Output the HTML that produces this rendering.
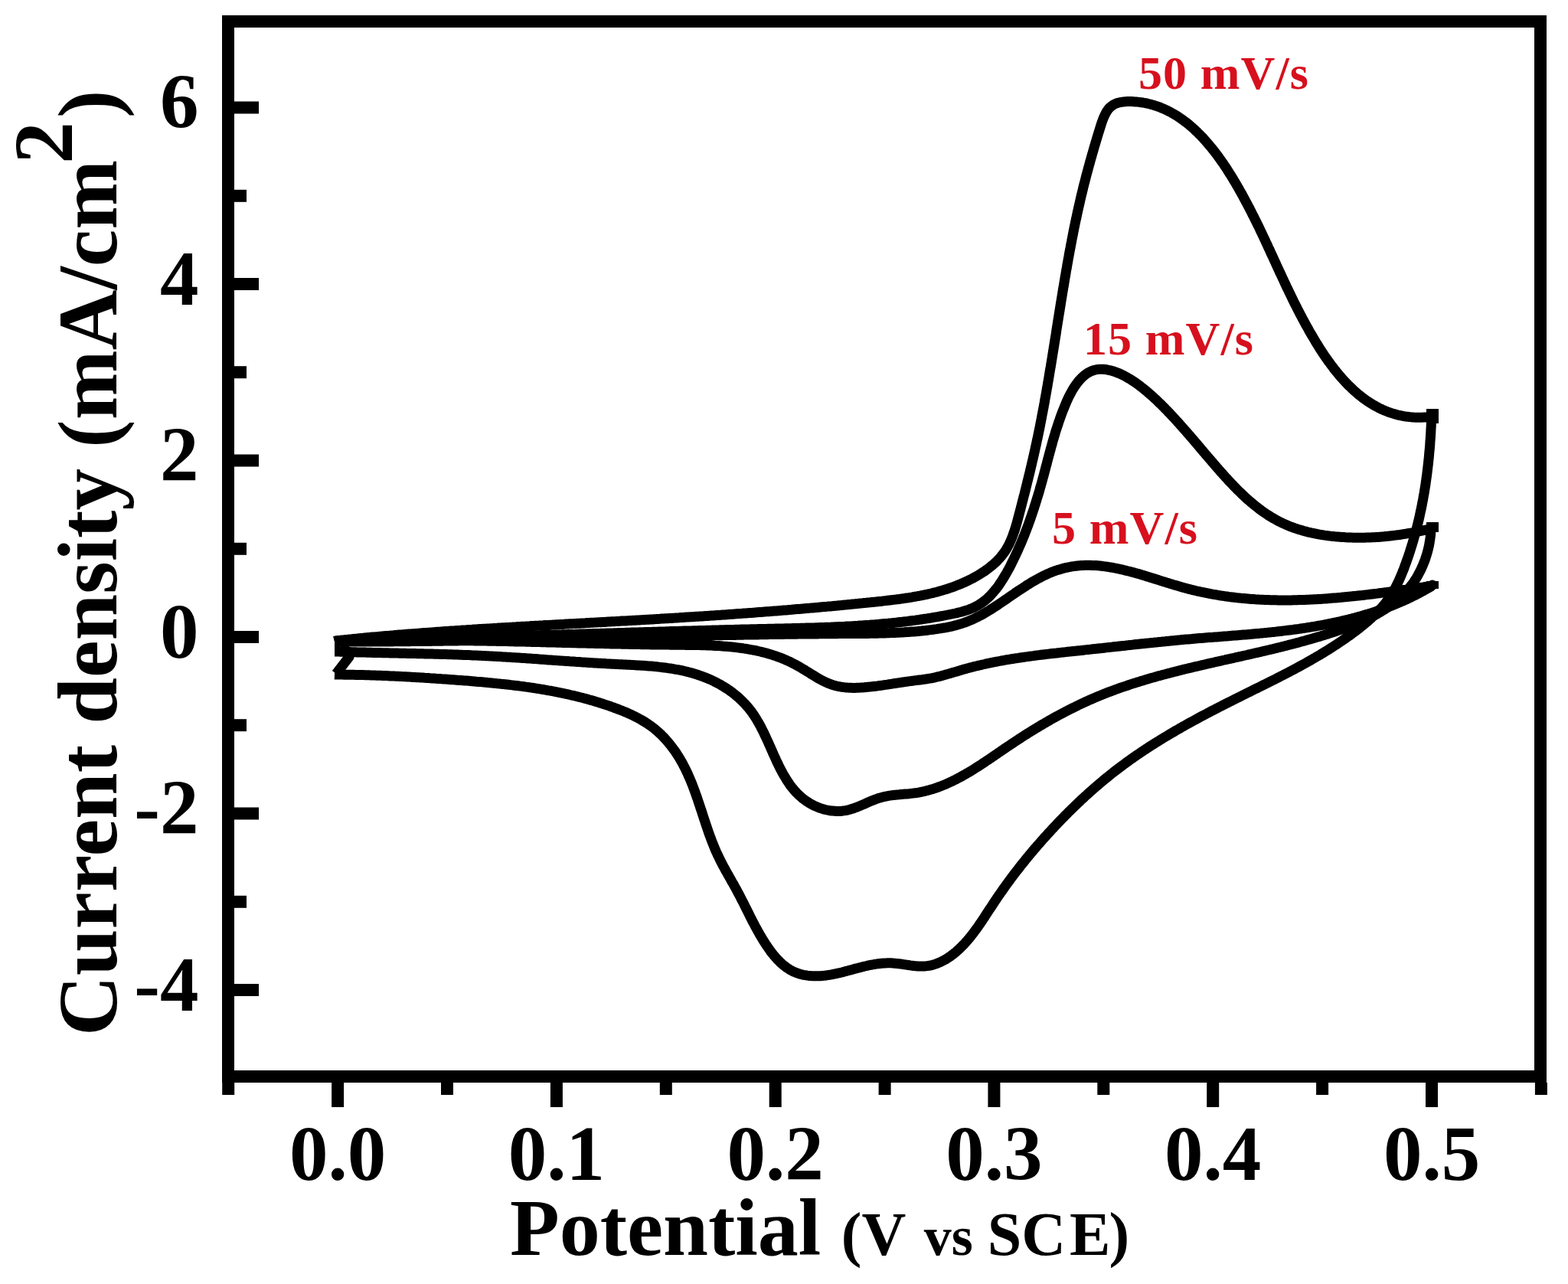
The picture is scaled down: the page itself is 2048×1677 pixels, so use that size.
<!DOCTYPE html>
<html><head><meta charset="utf-8"><style>
html,body{margin:0;padding:0;background:#fff;}
body{width:2048px;height:1677px;overflow:hidden;}
svg{display:block;}
text{font-family:"Liberation Serif",serif;font-weight:bold;}
</style></head><body>
<svg width="2048" height="1677" viewBox="0 0 2048 1677">
<rect width="2048" height="1677" fill="#fff"/>
<g fill="none" stroke="#000" stroke-width="13" stroke-linejoin="round" stroke-linecap="butt">
<path d="M437.0,837.5L439.5,836.7 442.0,836.4 444.5,836.2 446.9,835.9 449.4,835.7 451.9,835.4 454.4,835.2 456.9,834.9 459.4,834.7 461.8,834.4 464.3,834.2 466.8,834.0 469.3,833.7 471.8,833.5 474.3,833.3 476.8,833.0 479.2,832.8 481.7,832.6 484.2,832.3 486.7,832.1 489.2,831.9 491.7,831.7 494.2,831.5 496.7,831.2 499.2,831.0 501.6,830.8 504.1,830.6 506.6,830.4 509.1,830.2 511.6,830.0 514.1,829.8 516.6,829.5 519.1,829.3 521.6,829.1 524.1,828.9 526.6,828.7 529.1,828.5 531.6,828.3 534.1,828.1 536.6,827.9 539.1,827.7 541.6,827.6 544.0,827.4 546.5,827.2 549.0,827.0 551.5,826.8 554.0,826.6 556.5,826.4 559.0,826.2 561.5,826.1 564.0,825.9 566.5,825.7 569.0,825.5 571.5,825.3 574.0,825.2 576.5,825.0 579.0,824.8 581.5,824.6 584.0,824.5 586.5,824.3 589.0,824.1 591.5,823.9 594.0,823.8 596.5,823.6 599.0,823.4 601.5,823.3 604.0,823.1 606.5,822.9 609.1,822.8 611.6,822.6 614.1,822.4 616.6,822.3 619.1,822.1 621.6,822.0 624.1,821.8 626.6,821.6 629.1,821.5 631.6,821.3 634.1,821.2 636.6,821.0 639.1,820.9 641.6,820.7 644.1,820.6 646.6,820.4 649.1,820.3 651.6,820.1 654.1,820.0 656.6,819.8 659.1,819.7 661.6,819.5 664.1,819.4 666.7,819.2 669.2,819.1 671.7,818.9 674.2,818.8 676.7,818.6 679.2,818.5 681.7,818.3 684.2,818.2 686.7,818.1 689.2,817.9 691.7,817.8 694.2,817.6 696.7,817.5 699.2,817.3 701.7,817.2 704.2,817.1 706.7,816.9 709.2,816.8 711.8,816.6 714.3,816.5 716.8,816.4 719.3,816.2 721.8,816.1 724.3,815.9 726.8,815.8 729.3,815.7 731.8,815.5 734.3,815.4 736.8,815.3 739.3,815.1 741.8,815.0 744.3,814.8 746.8,814.7 749.3,814.6 751.8,814.4 754.3,814.3 756.8,814.2 759.3,814.0 761.9,813.9 764.4,813.8 766.9,813.6 769.4,813.5 771.9,813.3 774.4,813.2 776.9,813.1 779.4,812.9 781.9,812.8 784.4,812.7 786.9,812.5 789.4,812.4 791.9,812.2 794.4,812.1 796.9,812.0 799.4,811.8 801.9,811.7 804.4,811.6 806.9,811.4 809.4,811.3 811.9,811.1 814.4,811.0 816.9,810.9 819.4,810.7 821.9,810.6 824.4,810.4 826.9,810.3 829.4,810.2 831.9,810.0 834.4,809.9 836.9,809.7 839.4,809.6 841.9,809.4 844.4,809.3 846.9,809.2 849.4,809.0 851.9,808.9 854.4,808.7 856.9,808.6 859.4,808.4 861.9,808.3 864.3,808.1 866.8,808.0 869.3,807.8 871.8,807.7 874.3,807.5 876.8,807.4 879.3,807.2 881.8,807.1 884.3,806.9 886.8,806.8 889.3,806.6 891.8,806.5 894.3,806.3 896.8,806.1 899.2,806.0 901.7,805.8 904.2,805.7 906.7,805.5 909.2,805.3 911.7,805.2 914.2,805.0 916.7,804.9 919.2,804.7 921.7,804.5 924.1,804.4 926.6,804.2 929.1,804.0 931.6,803.9 934.1,803.7 936.6,803.5 939.1,803.4 941.6,803.2 944.1,803.0 946.6,802.9 949.0,802.7 951.5,802.5 954.0,802.3 956.5,802.2 959.0,802.0 961.5,801.8 964.0,801.6 966.5,801.4 969.0,801.3 971.5,801.1 973.9,800.9 976.4,800.7 978.9,800.5 981.4,800.4 983.9,800.2 986.4,800.0 988.9,799.8 991.4,799.6 993.9,799.4 996.4,799.2 998.9,799.0 1001.3,798.8 1003.8,798.7 1006.3,798.5 1008.8,798.3 1011.3,798.1 1013.8,797.9 1016.3,797.7 1018.8,797.5 1021.3,797.3 1023.8,797.1 1026.3,796.9 1028.8,796.7 1031.3,796.5 1033.8,796.3 1036.3,796.0 1038.8,795.8 1041.3,795.6 1043.8,795.4 1046.3,795.2 1048.8,795.0 1051.2,794.8 1053.7,794.6 1056.2,794.4 1058.7,794.1 1061.2,793.9 1063.7,793.7 1066.2,793.5 1068.8,793.3 1071.3,793.0 1073.8,792.8 1076.3,792.6 1078.8,792.4 1081.3,792.1 1083.8,791.9 1086.3,791.7 1088.8,791.4 1091.3,791.2 1093.8,791.0 1096.3,790.7 1098.8,790.5 1101.3,790.2 1103.8,790.0 1106.3,789.8 1108.9,789.5 1111.4,789.3 1113.9,789.0 1116.4,788.8 1118.9,788.5 1121.4,788.3 1123.9,788.0 1126.4,787.8 1129.0,787.5 1131.5,787.3 1134.0,787.0 1136.5,786.8 1139.0,786.5 1141.6,786.2 1144.1,786.0 1146.6,785.7 1149.1,785.4 1151.6,785.2 1154.2,784.9 1156.7,784.6 1159.2,784.3 1161.7,784.0 1164.2,783.7 1166.7,783.4 1169.3,783.1 1171.8,782.8 1174.3,782.5 1176.8,782.1 1179.3,781.8 1181.8,781.4 1184.3,781.0 1186.8,780.7 1189.3,780.3 1191.7,779.9 1194.2,779.4 1196.7,779.0 1199.2,778.5 1201.6,778.1 1204.1,777.6 1206.5,777.1 1209.0,776.6 1211.4,776.1 1213.9,775.5 1216.3,775.0 1218.7,774.4 1221.1,773.8 1223.5,773.2 1225.9,772.5 1228.3,771.8 1230.7,771.2 1233.1,770.4 1235.4,769.7 1237.8,769.0 1240.1,768.2 1242.5,767.4 1244.8,766.6 1247.1,765.7 1249.4,764.8 1251.7,763.9 1254.0,763.0 1256.3,762.0 1258.6,761.0 1260.8,760.0 1263.1,759.0 1265.3,757.9 1267.5,756.8 1269.7,755.7 1271.9,754.5 1274.1,753.3 1276.3,752.0 1278.4,750.8 1280.5,749.5 1282.7,748.1 1284.8,746.8 1286.8,745.4 1288.9,743.9 1290.9,742.4 1292.9,740.9 1294.8,739.3 1296.7,737.7 1298.6,736.1 1300.4,734.4 1302.2,732.7 1303.9,730.9 1305.6,729.1 1307.2,727.3 1308.7,725.4 1310.2,723.4 1311.7,721.4 1313.1,719.4 1314.4,717.3 1315.6,715.2 1316.8,713.0 1318.0,710.8 1319.0,708.6 1320.1,706.3 1321.0,704.0 1322.0,701.7 1322.9,699.3 1323.7,696.9 1324.6,694.5 1325.4,692.1 1326.1,689.7 1326.9,687.2 1327.6,684.7 1328.3,682.3 1329.0,679.8 1329.6,677.3 1330.3,674.8 1331.0,672.3 1331.6,669.9 1332.2,667.4 1332.9,664.9 1333.5,662.4 1334.2,660.0 1334.8,657.5 1335.4,655.1 1336.1,652.6 1336.7,650.1 1337.3,647.7 1338.0,645.3 1338.6,642.8 1339.2,640.4 1339.8,637.9 1340.4,635.5 1341.0,633.1 1341.6,630.6 1342.2,628.2 1342.8,625.8 1343.4,623.3 1344.0,620.9 1344.6,618.5 1345.2,616.1 1345.8,613.6 1346.3,611.2 1346.9,608.8 1347.5,606.4 1348.0,603.9 1348.6,601.5 1349.2,599.1 1349.7,596.7 1350.3,594.3 1350.8,591.8 1351.4,589.4 1351.9,587.0 1352.4,584.6 1353.0,582.1 1353.5,579.7 1354.0,577.3 1354.5,574.8 1355.1,572.4 1355.6,570.0 1356.1,567.5 1356.6,565.1 1357.1,562.7 1357.6,560.2 1358.1,557.8 1358.6,555.3 1359.0,552.9 1359.5,550.4 1360.0,548.0 1360.5,545.5 1360.9,543.1 1361.4,540.6 1361.9,538.2 1362.3,535.7 1362.8,533.3 1363.3,530.8 1363.7,528.3 1364.2,525.9 1364.6,523.4 1365.0,520.9 1365.5,518.5 1365.9,516.0 1366.4,513.5 1366.8,511.1 1367.2,508.6 1367.7,506.1 1368.1,503.7 1368.5,501.2 1368.9,498.7 1369.4,496.2 1369.8,493.8 1370.2,491.3 1370.6,488.8 1371.0,486.3 1371.4,483.9 1371.8,481.4 1372.3,478.9 1372.7,476.4 1373.1,473.9 1373.5,471.5 1373.9,469.0 1374.3,466.5 1374.7,464.0 1375.1,461.5 1375.5,459.0 1375.9,456.6 1376.3,454.1 1376.7,451.6 1377.1,449.1 1377.5,446.6 1377.9,444.1 1378.3,441.6 1378.7,439.2 1379.1,436.7 1379.5,434.2 1379.8,431.7 1380.2,429.2 1380.6,426.7 1381.0,424.3 1381.4,421.8 1381.8,419.3 1382.2,416.8 1382.6,414.3 1383.0,411.8 1383.4,409.3 1383.8,406.9 1384.2,404.4 1384.6,401.9 1385.0,399.4 1385.4,396.9 1385.8,394.4 1386.2,392.0 1386.6,389.5 1387.0,387.0 1387.4,384.5 1387.8,382.0 1388.2,379.6 1388.6,377.1 1389.1,374.6 1389.5,372.1 1389.9,369.6 1390.3,367.2 1390.7,364.7 1391.1,362.2 1391.6,359.8 1392.0,357.3 1392.4,354.8 1392.8,352.3 1393.3,349.9 1393.7,347.4 1394.1,344.9 1394.6,342.5 1395.0,340.0 1395.4,337.5 1395.9,335.1 1396.3,332.6 1396.8,330.2 1397.2,327.7 1397.7,325.2 1398.2,322.8 1398.6,320.3 1399.1,317.9 1399.6,315.4 1400.0,313.0 1400.5,310.5 1401.0,308.1 1401.5,305.6 1401.9,303.2 1402.4,300.8 1402.9,298.3 1403.4,295.9 1403.9,293.4 1404.4,291.0 1404.9,288.6 1405.5,286.1 1406.0,283.7 1406.5,281.3 1407.0,278.9 1407.5,276.4 1408.1,274.0 1408.6,271.6 1409.2,269.2 1409.7,266.8 1410.3,264.4 1410.8,261.9 1411.4,259.5 1411.9,257.1 1412.5,254.7 1413.1,252.3 1413.7,249.9 1414.3,247.5 1414.8,245.1 1415.4,242.7 1416.0,240.3 1416.7,237.9 1417.3,235.5 1417.9,233.1 1418.5,230.7 1419.1,228.3 1419.8,225.9 1420.4,223.5 1421.1,221.1 1421.7,218.7 1422.4,216.3 1423.1,213.8 1423.7,211.4 1424.4,209.0 1425.1,206.5 1425.8,204.1 1426.5,201.6 1427.2,199.2 1427.9,196.7 1428.6,194.3 1429.3,191.8 1430.1,189.3 1430.8,186.8 1431.6,184.3 1432.3,181.8 1433.1,179.3 1433.8,176.8 1434.6,174.2 1435.4,171.7 1436.2,169.1 1437.0,166.6 1437.8,164.0 1438.6,161.4 1439.5,158.9 1440.4,156.4 1441.3,154.0 1442.4,151.6 1443.5,149.3 1444.6,147.1 1445.9,145.1 1447.3,143.1 1448.7,141.3 1450.4,139.7 1452.1,138.3 1454.0,137.0 1456.0,135.9 1458.1,135.0 1460.4,134.3 1462.7,133.7 1465.1,133.3 1467.6,132.9 1470.1,132.7 1472.6,132.6 1475.2,132.6 1477.7,132.6 1480.3,132.7 1482.8,132.9 1485.3,133.1 1487.8,133.4 1490.2,133.7 1492.7,134.0 1495.1,134.5 1497.5,134.9 1499.8,135.5 1502.2,136.0 1504.5,136.7 1506.8,137.3 1509.1,138.1 1511.4,138.8 1513.7,139.6 1515.9,140.5 1518.1,141.4 1520.3,142.3 1522.5,143.3 1524.6,144.3 1526.7,145.4 1528.9,146.5 1530.9,147.7 1533.0,148.9 1535.1,150.1 1537.1,151.3 1539.1,152.6 1541.1,154.0 1543.1,155.4 1545.1,156.8 1547.0,158.2 1549.0,159.7 1550.9,161.2 1552.8,162.7 1554.6,164.3 1556.5,165.9 1558.3,167.5 1560.2,169.2 1562.0,170.9 1563.8,172.6 1565.5,174.4 1567.3,176.1 1569.0,177.9 1570.8,179.7 1572.5,181.6 1574.2,183.5 1575.8,185.4 1577.5,187.3 1579.1,189.2 1580.8,191.2 1582.4,193.1 1584.0,195.1 1585.6,197.1 1587.2,199.2 1588.7,201.2 1590.3,203.3 1591.8,205.4 1593.3,207.5 1594.8,209.6 1596.3,211.7 1597.8,213.8 1599.2,216.0 1600.7,218.1 1602.1,220.3 1603.5,222.5 1604.9,224.7 1606.3,226.9 1607.7,229.1 1609.0,231.3 1610.4,233.5 1611.7,235.8 1613.1,238.0 1614.4,240.2 1615.7,242.5 1617.0,244.7 1618.3,246.9 1619.5,249.2 1620.8,251.4 1622.1,253.7 1623.3,255.9 1624.5,258.2 1625.7,260.4 1626.9,262.7 1628.1,264.9 1629.3,267.1 1630.5,269.4 1631.7,271.6 1632.8,273.9 1634.0,276.1 1635.1,278.3 1636.2,280.6 1637.4,282.8 1638.5,285.1 1639.6,287.3 1640.7,289.5 1641.8,291.8 1642.9,294.0 1644.0,296.2 1645.1,298.5 1646.1,300.7 1647.2,303.0 1648.3,305.2 1649.3,307.4 1650.4,309.7 1651.4,311.9 1652.5,314.1 1653.5,316.4 1654.6,318.6 1655.6,320.8 1656.6,323.1 1657.7,325.3 1658.7,327.5 1659.7,329.8 1660.7,332.0 1661.8,334.2 1662.8,336.4 1663.8,338.7 1664.8,340.9 1665.9,343.1 1666.9,345.4 1667.9,347.6 1668.9,349.8 1670.0,352.0 1671.0,354.3 1672.0,356.5 1673.1,358.7 1674.1,360.9 1675.1,363.2 1676.2,365.4 1677.2,367.6 1678.2,369.8 1679.3,372.1 1680.3,374.3 1681.4,376.5 1682.5,378.7 1683.5,381.0 1684.6,383.2 1685.7,385.4 1686.8,387.6 1687.8,389.8 1688.9,392.1 1690.0,394.3 1691.1,396.5 1692.2,398.7 1693.4,400.9 1694.5,403.2 1695.6,405.4 1696.8,407.6 1697.9,409.8 1699.1,412.0 1700.2,414.2 1701.4,416.5 1702.6,418.7 1703.8,420.9 1705.0,423.1 1706.2,425.3 1707.5,427.5 1708.7,429.7 1709.9,432.0 1711.2,434.2 1712.5,436.4 1713.8,438.6 1715.1,440.8 1716.4,443.0 1717.7,445.2 1719.0,447.4 1720.4,449.6 1721.7,451.8 1723.1,454.0 1724.5,456.2 1725.9,458.3 1727.3,460.5 1728.7,462.6 1730.2,464.8 1731.6,466.9 1733.1,469.0 1734.6,471.1 1736.1,473.2 1737.6,475.2 1739.1,477.3 1740.7,479.3 1742.2,481.4 1743.8,483.4 1745.4,485.4 1747.0,487.3 1748.6,489.3 1750.2,491.2 1751.9,493.1 1753.6,495.0 1755.3,496.9 1757.0,498.7 1758.7,500.5 1760.4,502.3 1762.2,504.1 1764.0,505.8 1765.8,507.5 1767.6,509.2 1769.4,510.9 1771.3,512.5 1773.1,514.1 1775.0,515.7 1776.9,517.2 1778.8,518.7 1780.8,520.2 1782.7,521.6 1784.7,523.0 1786.7,524.4 1788.8,525.7 1790.8,527.0 1792.9,528.3 1795.0,529.5 1797.1,530.7 1799.2,531.8 1801.3,532.9 1803.5,534.0 1805.7,535.0 1807.9,535.9 1810.2,536.9 1812.4,537.8 1814.7,538.6 1817.0,539.4 1819.3,540.1 1821.7,540.8 1824.0,541.5 1826.4,542.1 1828.9,542.6 1831.3,543.1 1833.8,543.6 1836.3,544.0 1838.8,544.3 1841.3,544.6 1843.9,544.9 1846.5,545.1 1849.1,545.2 1851.7,545.3 1854.4,545.3 1857.1,545.2 1859.8,545.1 1862.5,545.0 1865.3,544.7 1868.1,544.5 1870.0,545.0 L1870.0,545.0L1869.6,547.4 1869.5,550.0 1869.4,552.5 1869.3,555.0 1869.2,557.5 1869.0,560.0 1868.9,562.5 1868.8,565.0 1868.6,567.5 1868.5,570.0 1868.3,572.5 1868.1,575.0 1867.9,577.5 1867.8,580.0 1867.6,582.5 1867.4,585.0 1867.2,587.5 1866.9,590.0 1866.7,592.5 1866.5,595.0 1866.3,597.5 1866.0,600.0 1865.7,602.5 1865.5,605.0 1865.2,607.4 1864.9,609.9 1864.6,612.4 1864.3,614.9 1864.0,617.4 1863.7,619.9 1863.4,622.3 1863.0,624.8 1862.7,627.3 1862.3,629.8 1862.0,632.2 1861.6,634.7 1861.2,637.2 1860.8,639.6 1860.4,642.1 1860.0,644.6 1859.5,647.0 1859.1,649.5 1858.7,651.9 1858.2,654.4 1857.7,656.8 1857.3,659.3 1856.8,661.7 1856.3,664.2 1855.8,666.6 1855.2,669.1 1854.7,671.5 1854.2,673.9 1853.6,676.4 1853.1,678.8 1852.5,681.2 1851.9,683.7 1851.3,686.1 1850.7,688.5 1850.1,690.9 1849.4,693.4 1848.8,695.8 1848.1,698.2 1847.4,700.6 1846.8,703.0 1846.1,705.4 1845.4,707.8 1844.7,710.2 1843.9,712.6 1843.2,715.0 1842.4,717.4 1841.7,719.8 1840.9,722.2 1840.1,724.6 1839.3,727.0 1838.5,729.3 1837.6,731.7 1836.8,734.1 1835.9,736.5 1835.0,738.8 1834.2,741.2 1833.3,743.6 1832.3,745.9 1831.4,748.3 1830.4,750.6 1829.5,752.9 1828.5,755.2 1827.5,757.5 1826.4,759.8 1825.3,762.1 1824.2,764.4 1823.1,766.6 1821.9,768.8 1820.7,771.0 1819.5,773.2 1818.2,775.3 1816.9,777.4 1815.6,779.5 1814.2,781.5 1812.7,783.5 1811.2,785.5 1809.7,787.5 1808.2,789.4 1806.6,791.3 1805.0,793.2 1803.3,795.0 1801.7,796.9 1799.9,798.7 1798.2,800.4 1796.4,802.2 1794.6,803.9 1792.8,805.6 1791.0,807.3 1789.1,809.0 1787.3,810.6 1785.4,812.3 1783.5,813.9 1781.5,815.5 1779.6,817.1 1777.6,818.6 1775.7,820.2 1773.7,821.7 1771.7,823.3 1769.7,824.8 1767.7,826.3 1765.7,827.7 1763.7,829.2 1761.7,830.7 1759.6,832.1 1757.6,833.6 1755.6,835.0 1753.5,836.4 1751.4,837.8 1749.4,839.2 1747.3,840.6 1745.2,842.0 1743.1,843.3 1741.0,844.7 1738.9,846.0 1736.8,847.4 1734.7,848.7 1732.6,850.0 1730.5,851.3 1728.4,852.6 1726.2,853.9 1724.1,855.2 1721.9,856.5 1719.8,857.7 1717.6,859.0 1715.5,860.2 1713.3,861.5 1711.1,862.7 1709.0,863.9 1706.8,865.2 1704.6,866.4 1702.4,867.6 1700.2,868.8 1698.0,870.0 1695.8,871.2 1693.6,872.4 1691.4,873.6 1689.2,874.7 1687.0,875.9 1684.8,877.1 1682.6,878.2 1680.3,879.4 1678.1,880.5 1675.9,881.7 1673.7,882.8 1671.4,884.0 1669.2,885.1 1667.0,886.2 1664.7,887.4 1662.5,888.5 1660.2,889.6 1658.0,890.8 1655.8,891.9 1653.5,893.0 1651.3,894.1 1649.0,895.2 1646.8,896.4 1644.5,897.5 1642.3,898.6 1640.0,899.7 1637.8,900.8 1635.5,901.9 1633.3,903.1 1631.0,904.2 1628.8,905.3 1626.5,906.4 1624.3,907.5 1622.0,908.6 1619.8,909.8 1617.5,910.9 1615.3,912.0 1613.0,913.1 1610.8,914.2 1608.5,915.4 1606.3,916.5 1604.1,917.6 1601.8,918.8 1599.6,919.9 1597.3,921.0 1595.1,922.2 1592.9,923.3 1590.6,924.5 1588.4,925.6 1586.2,926.8 1584.0,927.9 1581.7,929.1 1579.5,930.3 1577.3,931.4 1575.1,932.6 1572.9,933.8 1570.7,934.9 1568.4,936.1 1566.2,937.3 1564.0,938.5 1561.8,939.7 1559.6,940.9 1557.4,942.1 1555.2,943.3 1553.0,944.5 1550.9,945.7 1548.7,946.9 1546.5,948.1 1544.3,949.4 1542.1,950.6 1540.0,951.9 1537.8,953.1 1535.6,954.3 1533.5,955.6 1531.3,956.9 1529.2,958.1 1527.0,959.4 1524.9,960.7 1522.7,962.0 1520.6,963.2 1518.5,964.5 1516.3,965.8 1514.2,967.2 1512.1,968.5 1510.0,969.8 1507.8,971.1 1505.7,972.5 1503.6,973.8 1501.5,975.1 1499.4,976.5 1497.4,977.9 1495.3,979.2 1493.2,980.6 1491.1,982.0 1489.1,983.4 1487.0,984.8 1484.9,986.2 1482.9,987.6 1480.8,989.0 1478.8,990.5 1476.7,991.9 1474.7,993.4 1472.7,994.8 1470.7,996.3 1468.7,997.8 1466.7,999.2 1464.7,1000.7 1462.7,1002.2 1460.7,1003.7 1458.7,1005.3 1456.7,1006.8 1454.7,1008.3 1452.8,1009.9 1450.8,1011.4 1448.9,1013.0 1446.9,1014.6 1445.0,1016.1 1443.0,1017.7 1441.1,1019.3 1439.2,1020.9 1437.3,1022.5 1435.4,1024.1 1433.5,1025.8 1431.6,1027.4 1429.7,1029.0 1427.8,1030.7 1425.9,1032.4 1424.0,1034.0 1422.2,1035.7 1420.3,1037.4 1418.5,1039.0 1416.6,1040.7 1414.8,1042.4 1412.9,1044.1 1411.1,1045.8 1409.3,1047.6 1407.5,1049.3 1405.7,1051.0 1403.9,1052.7 1402.1,1054.5 1400.3,1056.2 1398.5,1058.0 1396.7,1059.7 1394.9,1061.5 1393.2,1063.3 1391.4,1065.0 1389.7,1066.8 1387.9,1068.6 1386.2,1070.4 1384.4,1072.2 1382.7,1074.0 1381.0,1075.8 1379.3,1077.6 1377.6,1079.4 1375.9,1081.2 1374.2,1083.0 1372.5,1084.9 1370.8,1086.7 1369.1,1088.5 1367.5,1090.4 1365.8,1092.2 1364.1,1094.0 1362.5,1095.9 1360.8,1097.7 1359.2,1099.6 1357.6,1101.5 1356.0,1103.3 1354.3,1105.2 1352.7,1107.1 1351.1,1108.9 1349.5,1110.8 1347.9,1112.7 1346.3,1114.6 1344.7,1116.5 1343.2,1118.4 1341.6,1120.3 1340.0,1122.2 1338.5,1124.2 1336.9,1126.1 1335.4,1128.0 1333.8,1129.9 1332.3,1131.9 1330.8,1133.8 1329.3,1135.8 1327.7,1137.8 1326.2,1139.7 1324.7,1141.7 1323.2,1143.7 1321.7,1145.7 1320.2,1147.7 1318.7,1149.7 1317.3,1151.7 1315.8,1153.7 1314.3,1155.7 1312.8,1157.8 1311.4,1159.8 1309.9,1161.9 1308.5,1163.9 1307.0,1166.0 1305.6,1168.1 1304.2,1170.1 1302.7,1172.2 1301.3,1174.3 1299.9,1176.4 1298.5,1178.6 1297.1,1180.7 1295.7,1182.8 1294.3,1185.0 1292.8,1187.1 1291.4,1189.3 1290.0,1191.4 1288.6,1193.6 1287.2,1195.7 1285.8,1197.9 1284.4,1200.0 1283.0,1202.1 1281.5,1204.3 1280.1,1206.4 1278.6,1208.5 1277.2,1210.6 1275.7,1212.6 1274.2,1214.7 1272.7,1216.7 1271.2,1218.8 1269.6,1220.8 1268.1,1222.7 1266.5,1224.7 1264.9,1226.6 1263.3,1228.5 1261.6,1230.4 1260.0,1232.2 1258.3,1234.1 1256.5,1235.8 1254.8,1237.6 1253.0,1239.3 1251.2,1240.9 1249.4,1242.6 1247.5,1244.2 1245.6,1245.7 1243.6,1247.2 1241.7,1248.7 1239.7,1250.0 1237.6,1251.4 1235.6,1252.7 1233.4,1253.9 1231.3,1255.0 1229.2,1256.1 1227.0,1257.1 1224.8,1258.0 1222.5,1258.9 1220.3,1259.6 1218.0,1260.3 1215.7,1260.8 1213.3,1261.3 1211.0,1261.6 1208.6,1261.9 1206.2,1262.0 1203.8,1262.1 1201.4,1262.0 1198.9,1261.9 1196.5,1261.7 1194.0,1261.5 1191.5,1261.2 1189.0,1260.9 1186.5,1260.5 1184.0,1260.1 1181.5,1259.8 1179.0,1259.4 1176.5,1259.0 1174.0,1258.7 1171.5,1258.4 1169.0,1258.2 1166.5,1258.0 1164.0,1257.8 1161.5,1257.8 1159.0,1257.8 1156.5,1257.9 1154.1,1258.0 1151.6,1258.2 1149.1,1258.5 1146.7,1258.8 1144.2,1259.1 1141.8,1259.5 1139.3,1260.0 1136.9,1260.4 1134.4,1260.9 1132.0,1261.5 1129.6,1262.0 1127.1,1262.6 1124.7,1263.2 1122.3,1263.9 1119.9,1264.5 1117.4,1265.1 1115.0,1265.8 1112.6,1266.5 1110.2,1267.1 1107.7,1267.8 1105.3,1268.4 1102.9,1269.0 1100.5,1269.7 1098.1,1270.3 1095.6,1270.8 1093.2,1271.4 1090.8,1271.9 1088.4,1272.4 1085.9,1272.9 1083.5,1273.3 1081.1,1273.6 1078.6,1274.0 1076.2,1274.3 1073.8,1274.5 1071.3,1274.7 1068.9,1274.8 1066.4,1274.8 1064.0,1274.8 1061.6,1274.7 1059.2,1274.6 1056.8,1274.4 1054.4,1274.1 1052.0,1273.7 1049.7,1273.3 1047.4,1272.8 1045.1,1272.2 1042.8,1271.5 1040.6,1270.7 1038.4,1269.8 1036.2,1268.9 1034.1,1267.8 1032.0,1266.7 1030.0,1265.4 1028.0,1264.1 1026.0,1262.7 1024.1,1261.2 1022.2,1259.6 1020.3,1257.9 1018.5,1256.2 1016.7,1254.4 1014.9,1252.6 1013.2,1250.6 1011.5,1248.7 1009.9,1246.7 1008.2,1244.6 1006.6,1242.6 1005.1,1240.4 1003.6,1238.3 1002.1,1236.1 1000.6,1233.9 999.1,1231.7 997.7,1229.4 996.3,1227.2 995.0,1225.0 993.6,1222.7 992.3,1220.5 991.1,1218.2 989.8,1216.0 988.6,1213.7 987.3,1211.5 986.1,1209.3 985.0,1207.0 983.8,1204.8 982.6,1202.6 981.5,1200.3 980.3,1198.1 979.2,1195.9 978.1,1193.7 977.0,1191.4 975.9,1189.2 974.8,1187.0 973.7,1184.8 972.6,1182.6 971.5,1180.4 970.4,1178.2 969.2,1176.0 968.1,1173.8 967.0,1171.6 965.9,1169.4 964.7,1167.3 963.5,1165.1 962.4,1162.9 961.2,1160.7 960.0,1158.6 958.8,1156.4 957.6,1154.2 956.3,1152.1 955.1,1149.9 953.9,1147.7 952.7,1145.6 951.5,1143.4 950.2,1141.2 949.0,1139.0 947.8,1136.9 946.6,1134.7 945.4,1132.5 944.2,1130.3 943.1,1128.1 941.9,1125.9 940.8,1123.6 939.7,1121.4 938.6,1119.2 937.5,1116.9 936.5,1114.6 935.4,1112.4 934.4,1110.1 933.5,1107.8 932.5,1105.5 931.6,1103.2 930.6,1100.8 929.7,1098.5 928.8,1096.2 928.0,1093.8 927.1,1091.5 926.2,1089.1 925.4,1086.7 924.6,1084.4 923.8,1082.0 923.0,1079.6 922.2,1077.3 921.4,1074.9 920.6,1072.5 919.8,1070.1 919.0,1067.7 918.2,1065.3 917.4,1062.9 916.7,1060.5 915.9,1058.1 915.1,1055.8 914.3,1053.4 913.5,1051.0 912.7,1048.6 911.9,1046.2 911.1,1043.8 910.3,1041.5 909.5,1039.1 908.6,1036.7 907.8,1034.4 906.9,1032.0 906.0,1029.7 905.2,1027.3 904.3,1025.0 903.3,1022.7 902.4,1020.3 901.4,1018.0 900.4,1015.7 899.4,1013.5 898.4,1011.2 897.4,1008.9 896.3,1006.6 895.2,1004.4 894.1,1002.2 892.9,999.9 891.8,997.7 890.6,995.5 889.3,993.4 888.1,991.2 886.8,989.0 885.4,986.9 884.1,984.8 882.7,982.7 881.3,980.6 879.8,978.6 878.3,976.6 876.8,974.6 875.3,972.6 873.7,970.7 872.1,968.7 870.4,966.9 868.8,965.0 867.1,963.2 865.3,961.4 863.6,959.6 861.8,957.9 860.0,956.2 858.1,954.6 856.2,953.0 854.3,951.4 852.3,949.9 850.3,948.4 848.3,947.0 846.3,945.6 844.2,944.2 842.1,942.9 840.0,941.6 837.8,940.3 835.6,939.1 833.4,937.9 831.2,936.7 829.0,935.6 826.7,934.5 824.4,933.4 822.2,932.4 819.9,931.3 817.5,930.3 815.2,929.4 812.9,928.4 810.5,927.5 808.2,926.6 805.8,925.7 803.4,924.8 801.1,923.9 798.7,923.1 796.3,922.2 793.9,921.4 791.5,920.6 789.1,919.8 786.7,919.0 784.3,918.3 782.0,917.5 779.5,916.8 777.1,916.0 774.7,915.3 772.3,914.6 769.9,914.0 767.5,913.3 765.1,912.6 762.7,912.0 760.3,911.3 757.8,910.7 755.4,910.1 753.0,909.5 750.5,908.9 748.1,908.3 745.7,907.8 743.2,907.2 740.8,906.7 738.4,906.1 735.9,905.6 733.5,905.1 731.0,904.6 728.6,904.1 726.1,903.6 723.7,903.1 721.2,902.7 718.8,902.2 716.3,901.8 713.8,901.3 711.4,900.9 708.9,900.5 706.5,900.1 704.0,899.7 701.5,899.3 699.1,898.9 696.6,898.5 694.1,898.1 691.6,897.8 689.2,897.4 686.7,897.1 684.2,896.7 681.7,896.4 679.3,896.1 676.8,895.8 674.3,895.5 671.8,895.2 669.3,894.9 666.8,894.6 664.4,894.3 661.9,894.0 659.4,893.7 656.9,893.4 654.4,893.2 651.9,892.9 649.4,892.7 646.9,892.4 644.4,892.2 641.9,891.9 639.5,891.7 637.0,891.5 634.5,891.2 632.0,891.0 629.5,890.8 627.0,890.6 624.5,890.4 622.0,890.2 619.5,889.9 617.0,889.7 614.5,889.5 612.0,889.3 609.5,889.1 607.0,889.0 604.5,888.8 602.0,888.6 599.5,888.4 597.0,888.2 594.5,888.0 592.0,887.8 589.5,887.7 587.0,887.5 584.5,887.3 582.0,887.1 579.5,886.9 577.0,886.8 574.5,886.6 572.0,886.4 569.5,886.3 567.0,886.1 564.5,885.9 562.0,885.8 559.5,885.6 557.0,885.4 554.5,885.3 552.0,885.1 549.5,885.0 547.0,884.8 544.5,884.7 542.0,884.5 539.6,884.4 537.1,884.2 534.6,884.1 532.1,884.0 529.6,883.8 527.1,883.7 524.6,883.6 522.1,883.4 519.6,883.3 517.1,883.2 514.6,883.1 512.1,883.0 509.6,882.9 507.1,882.7 504.6,882.6 502.1,882.5 499.6,882.4 497.1,882.3 494.6,882.2 492.1,882.2 489.6,882.1 487.1,882.0 484.6,881.9 482.1,881.8 479.6,881.7 477.1,881.7 474.6,881.6 472.1,881.5 469.6,881.5 467.1,881.4 464.6,881.4 462.0,881.3 459.5,881.3 457.0,881.3 454.5,881.2 452.0,881.2 449.5,881.2 447.0,881.1 444.5,881.1 442.0,881.1 439.5,881.1 437.0,881.0"/>
<path d="M437.0,838.0L439.5,837.9 442.0,837.8 444.5,837.7 447.0,837.6 449.5,837.5 452.0,837.4 454.5,837.3 457.0,837.2 459.5,837.1 462.1,837.0 464.6,836.9 467.1,836.8 469.6,836.7 472.1,836.6 474.6,836.5 477.1,836.4 479.6,836.3 482.1,836.2 484.6,836.1 487.1,836.0 489.6,835.9 492.1,835.8 494.6,835.8 497.1,835.7 499.6,835.6 502.1,835.5 504.6,835.4 507.1,835.3 509.7,835.2 512.2,835.1 514.7,835.1 517.2,835.0 519.7,834.9 522.2,834.8 524.7,834.7 527.2,834.6 529.7,834.6 532.2,834.5 534.7,834.4 537.2,834.3 539.7,834.3 542.2,834.2 544.7,834.1 547.2,834.0 549.7,833.9 552.2,833.9 554.7,833.8 557.2,833.7 559.7,833.6 562.3,833.6 564.8,833.5 567.3,833.4 569.8,833.3 572.3,833.3 574.8,833.2 577.3,833.1 579.8,833.1 582.3,833.0 584.8,832.9 587.3,832.8 589.8,832.8 592.3,832.7 594.8,832.6 597.3,832.6 599.8,832.5 602.3,832.4 604.8,832.4 607.3,832.3 609.8,832.2 612.3,832.2 614.8,832.1 617.3,832.0 619.9,832.0 622.4,831.9 624.9,831.8 627.4,831.8 629.9,831.7 632.4,831.6 634.9,831.5 637.4,831.5 639.9,831.4 642.4,831.3 644.9,831.3 647.4,831.2 649.9,831.1 652.4,831.1 654.9,831.0 657.4,830.9 659.9,830.9 662.4,830.8 664.9,830.7 667.4,830.7 669.9,830.6 672.5,830.5 675.0,830.5 677.5,830.4 680.0,830.3 682.5,830.3 685.0,830.2 687.5,830.1 690.0,830.1 692.5,830.0 695.0,829.9 697.5,829.9 700.0,829.8 702.5,829.7 705.0,829.7 707.5,829.6 710.0,829.5 712.5,829.4 715.0,829.4 717.6,829.3 720.1,829.2 722.6,829.2 725.1,829.1 727.6,829.0 730.1,828.9 732.6,828.9 735.1,828.8 737.6,828.7 740.1,828.7 742.6,828.6 745.1,828.5 747.6,828.4 750.1,828.4 752.6,828.3 755.1,828.2 757.7,828.1 760.2,828.1 762.7,828.0 765.2,827.9 767.7,827.8 770.2,827.8 772.7,827.7 775.2,827.6 777.7,827.5 780.2,827.5 782.7,827.4 785.2,827.3 787.7,827.2 790.2,827.2 792.7,827.1 795.2,827.0 797.8,826.9 800.3,826.9 802.8,826.8 805.3,826.7 807.8,826.6 810.3,826.6 812.8,826.5 815.3,826.4 817.8,826.3 820.3,826.3 822.8,826.2 825.3,826.1 827.8,826.0 830.3,826.0 832.8,825.9 835.4,825.8 837.9,825.7 840.4,825.7 842.9,825.6 845.4,825.5 847.9,825.5 850.4,825.4 852.9,825.3 855.4,825.2 857.9,825.2 860.4,825.1 862.9,825.0 865.4,824.9 867.9,824.9 870.4,824.8 873.0,824.7 875.5,824.6 878.0,824.6 880.5,824.5 883.0,824.4 885.5,824.4 888.0,824.3 890.5,824.2 893.0,824.1 895.5,824.1 898.0,824.0 900.5,823.9 903.0,823.9 905.5,823.8 908.0,823.7 910.5,823.7 913.0,823.6 915.6,823.5 918.1,823.4 920.6,823.4 923.1,823.3 925.6,823.2 928.1,823.2 930.6,823.1 933.1,823.0 935.6,823.0 938.1,822.9 940.6,822.8 943.1,822.8 945.6,822.7 948.1,822.6 950.6,822.6 953.1,822.5 955.6,822.5 958.1,822.4 960.6,822.3 963.1,822.3 965.6,822.2 968.2,822.1 970.7,822.1 973.2,822.0 975.7,822.0 978.2,821.9 980.7,821.8 983.2,821.8 985.7,821.7 988.2,821.7 990.7,821.6 993.2,821.5 995.7,821.5 998.2,821.4 1000.7,821.4 1003.2,821.3 1005.7,821.3 1008.2,821.2 1010.7,821.2 1013.2,821.1 1015.7,821.0 1018.2,821.0 1020.7,820.9 1023.2,820.9 1025.7,820.8 1028.2,820.8 1030.7,820.7 1033.2,820.7 1035.7,820.6 1038.2,820.5 1040.7,820.5 1043.2,820.4 1045.7,820.3 1048.2,820.3 1050.7,820.2 1053.2,820.1 1055.7,820.1 1058.2,820.0 1060.7,819.9 1063.2,819.9 1065.7,819.8 1068.2,819.7 1070.7,819.6 1073.3,819.5 1075.8,819.4 1078.3,819.3 1080.8,819.2 1083.3,819.2 1085.8,819.1 1088.3,818.9 1090.8,818.8 1093.3,818.7 1095.8,818.6 1098.3,818.5 1100.8,818.4 1103.3,818.3 1105.8,818.1 1108.3,818.0 1110.7,817.9 1113.2,817.7 1115.7,817.6 1118.2,817.4 1120.7,817.3 1123.2,817.1 1125.7,817.0 1128.2,816.8 1130.7,816.6 1133.2,816.4 1135.7,816.3 1138.2,816.1 1140.7,815.9 1143.2,815.7 1145.7,815.5 1148.2,815.3 1150.7,815.0 1153.2,814.8 1155.7,814.6 1158.2,814.4 1160.7,814.1 1163.2,813.9 1165.7,813.6 1168.2,813.4 1170.7,813.1 1173.2,812.8 1175.7,812.5 1178.2,812.3 1180.7,812.0 1183.2,811.7 1185.7,811.4 1188.2,811.0 1190.7,810.7 1193.2,810.4 1195.7,810.1 1198.2,809.7 1200.7,809.4 1203.2,809.0 1205.7,808.6 1208.2,808.2 1210.7,807.9 1213.2,807.5 1215.7,807.1 1218.2,806.6 1220.7,806.2 1223.2,805.8 1225.7,805.4 1228.1,804.9 1230.6,804.5 1233.1,804.0 1235.6,803.5 1238.1,803.0 1240.6,802.5 1243.1,802.0 1245.6,801.5 1248.1,801.0 1250.6,800.4 1253.0,799.8 1255.5,799.2 1257.9,798.5 1260.3,797.8 1262.7,797.1 1265.0,796.3 1267.3,795.4 1269.6,794.5 1271.8,793.5 1274.0,792.4 1276.1,791.3 1278.2,790.1 1280.2,788.8 1282.2,787.5 1284.1,786.1 1286.0,784.6 1287.9,783.1 1289.7,781.5 1291.5,779.8 1293.2,778.1 1294.9,776.3 1296.5,774.5 1298.1,772.6 1299.7,770.7 1301.3,768.8 1302.8,766.8 1304.3,764.8 1305.7,762.7 1307.1,760.6 1308.5,758.5 1309.9,756.3 1311.2,754.1 1312.5,751.9 1313.8,749.7 1315.1,747.5 1316.3,745.2 1317.6,743.0 1318.8,740.7 1320.0,738.4 1321.1,736.1 1322.3,733.8 1323.4,731.5 1324.5,729.2 1325.6,726.9 1326.7,724.6 1327.8,722.3 1328.9,720.0 1329.9,717.7 1330.9,715.3 1332.0,713.0 1333.0,710.7 1334.0,708.4 1334.9,706.1 1335.9,703.7 1336.8,701.4 1337.8,699.1 1338.7,696.7 1339.6,694.4 1340.5,692.1 1341.4,689.7 1342.3,687.4 1343.2,685.0 1344.0,682.7 1344.9,680.3 1345.7,678.0 1346.5,675.6 1347.3,673.3 1348.1,670.9 1348.9,668.6 1349.7,666.2 1350.5,663.9 1351.2,661.5 1352.0,659.1 1352.7,656.8 1353.5,654.4 1354.2,652.0 1354.9,649.7 1355.7,647.3 1356.4,644.9 1357.1,642.6 1357.8,640.2 1358.4,637.8 1359.1,635.4 1359.8,633.0 1360.5,630.7 1361.1,628.3 1361.8,625.9 1362.4,623.5 1363.1,621.1 1363.7,618.8 1364.3,616.4 1365.0,614.0 1365.6,611.6 1366.2,609.2 1366.9,606.8 1367.5,604.4 1368.1,602.0 1368.7,599.6 1369.4,597.2 1370.0,594.8 1370.7,592.4 1371.3,590.0 1372.0,587.6 1372.6,585.2 1373.3,582.8 1374.0,580.4 1374.6,577.9 1375.3,575.5 1376.0,573.1 1376.7,570.7 1377.5,568.2 1378.2,565.8 1378.9,563.3 1379.7,560.9 1380.5,558.5 1381.3,556.0 1382.1,553.6 1382.9,551.1 1383.8,548.6 1384.6,546.2 1385.5,543.7 1386.4,541.2 1387.3,538.7 1388.3,536.3 1389.3,533.8 1390.3,531.3 1391.3,528.8 1392.3,526.4 1393.4,523.9 1394.5,521.5 1395.6,519.1 1396.8,516.8 1398.0,514.5 1399.2,512.2 1400.4,510.0 1401.7,507.8 1403.1,505.7 1404.4,503.7 1405.8,501.7 1407.3,499.8 1408.7,497.9 1410.3,496.1 1411.8,494.5 1413.4,492.9 1415.1,491.4 1416.8,489.9 1418.5,488.6 1420.3,487.4 1422.1,486.3 1424.0,485.4 1425.9,484.5 1427.9,483.8 1429.9,483.2 1432.0,482.7 1434.2,482.4 1436.4,482.2 1438.6,482.2 1440.9,482.2 1443.2,482.5 1445.6,482.8 1448.0,483.3 1450.4,483.8 1452.8,484.5 1455.3,485.3 1457.7,486.1 1460.2,487.1 1462.6,488.1 1465.1,489.2 1467.5,490.4 1469.8,491.7 1472.2,493.0 1474.5,494.3 1476.9,495.7 1479.2,497.2 1481.4,498.7 1483.7,500.2 1485.9,501.8 1488.1,503.4 1490.2,505.1 1492.3,506.7 1494.4,508.4 1496.5,510.1 1498.6,511.8 1500.6,513.6 1502.5,515.3 1504.5,517.0 1506.4,518.7 1508.3,520.5 1510.2,522.2 1512.0,524.0 1513.8,525.7 1515.6,527.4 1517.4,529.2 1519.2,530.9 1520.9,532.7 1522.6,534.5 1524.3,536.2 1526.0,538.0 1527.7,539.8 1529.4,541.6 1531.1,543.3 1532.7,545.1 1534.4,546.9 1536.0,548.7 1537.6,550.5 1539.3,552.3 1540.9,554.1 1542.5,556.0 1544.1,557.8 1545.7,559.6 1547.4,561.5 1549.0,563.3 1550.6,565.1 1552.2,567.0 1553.8,568.8 1555.4,570.7 1557.0,572.5 1558.6,574.4 1560.2,576.3 1561.8,578.1 1563.4,580.0 1565.0,581.9 1566.6,583.8 1568.2,585.7 1569.8,587.6 1571.4,589.5 1573.0,591.4 1574.6,593.3 1576.3,595.2 1577.9,597.1 1579.5,599.0 1581.2,600.9 1582.8,602.8 1584.5,604.7 1586.1,606.7 1587.8,608.6 1589.4,610.5 1591.1,612.4 1592.8,614.4 1594.5,616.3 1596.2,618.2 1597.9,620.1 1599.6,622.0 1601.3,623.9 1603.1,625.8 1604.8,627.7 1606.5,629.5 1608.3,631.4 1610.1,633.3 1611.8,635.1 1613.6,636.9 1615.4,638.8 1617.2,640.6 1619.1,642.4 1620.9,644.1 1622.7,645.9 1624.6,647.6 1626.4,649.4 1628.3,651.1 1630.2,652.8 1632.1,654.4 1634.0,656.1 1636.0,657.7 1637.9,659.3 1639.8,660.9 1641.8,662.4 1643.8,664.0 1645.8,665.5 1647.8,667.0 1649.8,668.4 1651.9,669.8 1653.9,671.2 1656.0,672.6 1658.1,673.9 1660.2,675.2 1662.3,676.5 1664.4,677.7 1666.6,678.9 1668.7,680.1 1670.9,681.2 1673.1,682.3 1675.3,683.4 1677.6,684.4 1679.8,685.4 1682.1,686.3 1684.3,687.3 1686.6,688.1 1688.9,689.0 1691.3,689.8 1693.6,690.6 1695.9,691.4 1698.3,692.1 1700.6,692.8 1703.0,693.5 1705.4,694.1 1707.8,694.8 1710.2,695.3 1712.6,695.9 1715.1,696.4 1717.5,696.9 1719.9,697.4 1722.4,697.9 1724.9,698.3 1727.3,698.7 1729.8,699.1 1732.3,699.4 1734.8,699.8 1737.3,700.1 1739.8,700.4 1742.3,700.6 1744.8,700.9 1747.3,701.1 1749.8,701.3 1752.3,701.5 1754.8,701.6 1757.3,701.8 1759.9,701.9 1762.4,702.0 1764.9,702.1 1767.4,702.2 1770.0,702.2 1772.5,702.2 1775.0,702.2 1777.6,702.2 1780.1,702.2 1782.6,702.2 1785.1,702.1 1787.7,702.0 1790.2,701.9 1792.7,701.8 1795.2,701.7 1797.8,701.5 1800.3,701.4 1802.8,701.2 1805.3,701.0 1807.8,700.8 1810.3,700.5 1812.9,700.3 1815.4,700.0 1817.9,699.7 1820.4,699.4 1822.8,699.1 1825.3,698.8 1827.8,698.5 1830.3,698.1 1832.8,697.7 1835.2,697.3 1837.7,696.9 1840.2,696.5 1842.6,696.1 1845.1,695.7 1847.5,695.2 1849.9,694.7 1852.4,694.2 1854.8,693.7 1857.2,693.2 1859.6,692.7 1862.0,692.2 1864.4,691.6 1866.7,691.0 1869.0,689.5 L1869.0,689.5L1868.9,692.1 1868.8,694.4 1868.7,696.7 1868.5,699.1 1868.2,701.5 1867.9,704.0 1867.5,706.4 1867.1,708.9 1866.7,711.3 1866.2,713.8 1865.6,716.3 1865.0,718.8 1864.3,721.3 1863.6,723.8 1862.8,726.2 1862.0,728.7 1861.2,731.2 1860.3,733.6 1859.3,736.0 1858.3,738.4 1857.3,740.8 1856.2,743.2 1855.1,745.5 1853.9,747.8 1852.7,750.1 1851.5,752.3 1850.2,754.5 1848.8,756.6 1847.5,758.7 1846.1,760.8 1844.6,762.8 1843.1,764.8 1841.6,766.7 1840.0,768.6 1838.4,770.5 1836.8,772.3 1835.2,774.1 1833.5,775.9 1831.7,777.6 1830.0,779.3 1828.2,780.9 1826.4,782.6 1824.5,784.1 1822.6,785.7 1820.7,787.2 1818.8,788.7 1816.9,790.2 1814.9,791.6 1812.9,793.0 1810.8,794.4 1808.8,795.7 1806.7,797.0 1804.6,798.3 1802.5,799.6 1800.3,800.8 1798.2,802.1 1796.0,803.2 1793.8,804.4 1791.6,805.6 1789.4,806.7 1787.1,807.8 1784.9,808.9 1782.6,809.9 1780.3,810.9 1778.0,812.0 1775.7,813.0 1773.4,813.9 1771.0,814.9 1768.7,815.9 1766.3,816.8 1763.9,817.7 1761.6,818.6 1759.2,819.5 1756.8,820.4 1754.4,821.2 1752.0,822.1 1749.6,822.9 1747.2,823.7 1744.8,824.5 1742.4,825.3 1740.0,826.1 1737.6,826.9 1735.2,827.7 1732.7,828.4 1730.3,829.2 1727.9,829.9 1725.5,830.7 1723.1,831.4 1720.7,832.1 1718.3,832.8 1715.9,833.5 1713.4,834.2 1711.0,834.9 1708.6,835.6 1706.2,836.3 1703.8,837.0 1701.4,837.6 1698.9,838.3 1696.5,839.0 1694.1,839.6 1691.7,840.3 1689.3,840.9 1686.8,841.5 1684.4,842.1 1682.0,842.8 1679.6,843.4 1677.2,844.0 1674.7,844.6 1672.3,845.2 1669.9,845.8 1667.5,846.4 1665.0,847.0 1662.6,847.6 1660.2,848.1 1657.8,848.7 1655.4,849.3 1652.9,849.9 1650.5,850.4 1648.1,851.0 1645.6,851.6 1643.2,852.1 1640.8,852.7 1638.4,853.2 1635.9,853.8 1633.5,854.4 1631.1,854.9 1628.7,855.5 1626.2,856.0 1623.8,856.5 1621.4,857.1 1618.9,857.6 1616.5,858.2 1614.1,858.7 1611.6,859.3 1609.2,859.8 1606.8,860.4 1604.3,860.9 1601.9,861.4 1599.5,862.0 1597.0,862.5 1594.6,863.1 1592.2,863.6 1589.7,864.2 1587.3,864.7 1584.9,865.3 1582.4,865.8 1580.0,866.4 1577.6,866.9 1575.1,867.5 1572.7,868.1 1570.2,868.6 1567.8,869.2 1565.4,869.8 1562.9,870.3 1560.5,870.9 1558.0,871.5 1555.6,872.1 1553.2,872.6 1550.7,873.2 1548.3,873.8 1545.8,874.4 1543.4,875.0 1540.9,875.6 1538.5,876.2 1536.1,876.9 1533.6,877.5 1531.2,878.1 1528.8,878.7 1526.3,879.4 1523.9,880.0 1521.4,880.7 1519.0,881.3 1516.6,882.0 1514.2,882.6 1511.7,883.3 1509.3,884.0 1506.9,884.7 1504.5,885.3 1502.0,886.0 1499.6,886.7 1497.2,887.4 1494.8,888.2 1492.4,888.9 1490.0,889.6 1487.6,890.4 1485.2,891.1 1482.8,891.9 1480.4,892.6 1478.0,893.4 1475.6,894.2 1473.3,895.0 1470.9,895.8 1468.5,896.6 1466.1,897.4 1463.8,898.2 1461.4,899.0 1459.0,899.9 1456.7,900.7 1454.4,901.6 1452.0,902.5 1449.7,903.3 1447.3,904.2 1445.0,905.1 1442.7,906.0 1440.4,907.0 1438.1,907.9 1435.8,908.9 1433.5,909.8 1431.2,910.8 1428.9,911.7 1426.6,912.7 1424.3,913.7 1422.1,914.7 1419.8,915.8 1417.5,916.8 1415.3,917.8 1413.0,918.9 1410.8,919.9 1408.5,921.0 1406.3,922.1 1404.1,923.2 1401.8,924.3 1399.6,925.4 1397.4,926.5 1395.2,927.6 1393.0,928.8 1390.8,929.9 1388.6,931.1 1386.4,932.2 1384.2,933.4 1382.0,934.6 1379.8,935.8 1377.6,937.0 1375.5,938.2 1373.3,939.4 1371.1,940.6 1369.0,941.9 1366.8,943.1 1364.7,944.4 1362.5,945.6 1360.4,946.9 1358.2,948.2 1356.1,949.5 1353.9,950.7 1351.8,952.0 1349.7,953.4 1347.5,954.7 1345.4,956.0 1343.3,957.3 1341.2,958.6 1339.0,960.0 1336.9,961.3 1334.8,962.7 1332.7,964.1 1330.6,965.4 1328.5,966.8 1326.4,968.2 1324.3,969.6 1322.2,971.0 1320.1,972.4 1318.0,973.8 1315.9,975.2 1313.8,976.6 1311.7,978.0 1309.6,979.5 1307.5,980.9 1305.4,982.3 1303.3,983.8 1301.3,985.2 1299.2,986.6 1297.1,988.0 1295.0,989.5 1292.9,990.9 1290.8,992.3 1288.7,993.7 1286.6,995.1 1284.5,996.5 1282.4,997.9 1280.3,999.3 1278.2,1000.6 1276.0,1002.0 1273.9,1003.3 1271.8,1004.7 1269.7,1006.0 1267.5,1007.3 1265.4,1008.6 1263.2,1009.8 1261.1,1011.1 1258.9,1012.3 1256.8,1013.5 1254.6,1014.7 1252.4,1015.9 1250.2,1017.0 1248.0,1018.2 1245.8,1019.3 1243.6,1020.4 1241.4,1021.4 1239.2,1022.4 1236.9,1023.5 1234.7,1024.4 1232.4,1025.4 1230.2,1026.3 1227.9,1027.2 1225.6,1028.0 1223.3,1028.8 1221.0,1029.6 1218.7,1030.4 1216.3,1031.1 1214.0,1031.8 1211.6,1032.4 1209.2,1033.0 1206.8,1033.6 1204.4,1034.1 1202.0,1034.6 1199.6,1035.1 1197.1,1035.5 1194.7,1035.8 1192.2,1036.1 1189.7,1036.4 1187.2,1036.7 1184.7,1036.9 1182.2,1037.1 1179.7,1037.3 1177.2,1037.5 1174.6,1037.8 1172.1,1038.0 1169.6,1038.2 1167.0,1038.5 1164.5,1038.8 1162.0,1039.2 1159.5,1039.6 1157.0,1040.1 1154.5,1040.6 1152.1,1041.2 1149.6,1041.9 1147.2,1042.6 1144.8,1043.5 1142.4,1044.4 1140.0,1045.3 1137.6,1046.3 1135.2,1047.3 1132.8,1048.3 1130.5,1049.4 1128.1,1050.4 1125.8,1051.4 1123.4,1052.4 1121.1,1053.4 1118.7,1054.4 1116.3,1055.2 1114.0,1056.1 1111.6,1056.8 1109.2,1057.5 1106.8,1058.1 1104.4,1058.6 1102.0,1058.9 1099.6,1059.2 1097.2,1059.4 1094.8,1059.5 1092.3,1059.5 1089.9,1059.3 1087.5,1059.1 1085.1,1058.9 1082.7,1058.5 1080.3,1058.0 1077.9,1057.5 1075.6,1056.9 1073.2,1056.1 1070.9,1055.4 1068.6,1054.5 1066.4,1053.6 1064.1,1052.6 1061.9,1051.5 1059.8,1050.3 1057.6,1049.1 1055.5,1047.8 1053.5,1046.5 1051.5,1045.1 1049.5,1043.6 1047.6,1042.1 1045.8,1040.5 1044.0,1038.9 1042.2,1037.2 1040.5,1035.5 1038.8,1033.7 1037.2,1031.9 1035.7,1030.0 1034.1,1028.1 1032.6,1026.2 1031.2,1024.2 1029.8,1022.1 1028.4,1020.1 1027.1,1018.0 1025.8,1015.8 1024.5,1013.7 1023.2,1011.5 1022.0,1009.3 1020.8,1007.0 1019.6,1004.8 1018.4,1002.5 1017.3,1000.2 1016.2,997.9 1015.0,995.5 1013.9,993.2 1012.9,990.8 1011.8,988.5 1010.7,986.1 1009.6,983.7 1008.6,981.3 1007.5,978.9 1006.5,976.5 1005.4,974.1 1004.3,971.7 1003.3,969.3 1002.2,967.0 1001.1,964.6 1000.0,962.2 998.9,959.9 997.8,957.5 996.7,955.2 995.5,952.9 994.3,950.6 993.2,948.3 991.9,946.1 990.7,943.9 989.4,941.7 988.1,939.5 986.8,937.4 985.5,935.3 984.1,933.2 982.7,931.2 981.2,929.2 979.7,927.2 978.2,925.3 976.6,923.4 975.0,921.6 973.4,919.7 971.7,918.0 970.0,916.2 968.2,914.5 966.5,912.8 964.7,911.2 962.9,909.6 961.0,908.1 959.1,906.5 957.2,905.0 955.3,903.6 953.3,902.2 951.3,900.8 949.3,899.4 947.2,898.1 945.2,896.8 943.1,895.6 941.0,894.3 938.8,893.1 936.7,892.0 934.5,890.9 932.3,889.8 930.1,888.7 927.9,887.7 925.6,886.7 923.4,885.8 921.1,884.9 918.8,884.0 916.5,883.1 914.2,882.3 911.8,881.5 909.5,880.7 907.1,880.0 904.7,879.3 902.3,878.6 900.0,878.0 897.5,877.4 895.1,876.8 892.7,876.2 890.3,875.7 887.8,875.2 885.4,874.7 882.9,874.3 880.4,873.8 878.0,873.4 875.5,873.0 873.0,872.7 870.5,872.3 868.0,872.0 865.5,871.7 863.0,871.4 860.4,871.1 857.9,870.8 855.4,870.6 852.9,870.3 850.3,870.1 847.8,869.9 845.2,869.7 842.7,869.5 840.1,869.3 837.6,869.2 835.0,869.0 832.5,868.9 829.9,868.7 827.4,868.6 824.8,868.4 822.3,868.3 819.7,868.2 817.2,868.0 814.6,867.9 812.1,867.8 809.5,867.7 807.0,867.6 804.4,867.4 801.9,867.3 799.3,867.2 796.8,867.0 794.3,866.9 791.7,866.8 789.2,866.6 786.7,866.5 784.2,866.3 781.6,866.2 779.1,866.0 776.6,865.9 774.1,865.7 771.6,865.6 769.1,865.4 766.6,865.2 764.1,865.1 761.6,864.9 759.1,864.8 756.6,864.6 754.1,864.4 751.6,864.3 749.1,864.1 746.6,863.9 744.1,863.8 741.6,863.6 739.1,863.4 736.7,863.2 734.2,863.1 731.7,862.9 729.2,862.7 726.7,862.6 724.2,862.4 721.8,862.2 719.3,862.0 716.8,861.9 714.3,861.7 711.9,861.5 709.4,861.3 706.9,861.2 704.4,861.0 702.0,860.8 699.5,860.6 697.0,860.5 694.5,860.3 692.1,860.1 689.6,860.0 687.1,859.8 684.6,859.6 682.2,859.5 679.7,859.3 677.2,859.1 674.8,859.0 672.3,858.8 669.8,858.7 667.3,858.5 664.9,858.3 662.4,858.2 659.9,858.0 657.4,857.9 654.9,857.7 652.5,857.6 650.0,857.5 647.5,857.3 645.0,857.2 642.5,857.0 640.0,856.9 637.6,856.8 635.1,856.7 632.6,856.5 630.1,856.4 627.6,856.3 625.1,856.2 622.6,856.1 620.1,856.0 617.6,855.9 615.1,855.7 612.6,855.6 610.1,855.5 607.6,855.5 605.1,855.4 602.6,855.3 600.1,855.2 597.6,855.1 595.1,855.0 592.5,854.9 590.0,854.8 587.5,854.8 585.0,854.7 582.5,854.6 580.0,854.5 577.5,854.5 574.9,854.4 572.4,854.3 569.9,854.3 567.4,854.2 564.9,854.1 562.4,854.1 559.8,854.0 557.3,853.9 554.8,853.9 552.3,853.8 549.8,853.8 547.2,853.7 544.7,853.7 542.2,853.6 539.7,853.5 537.2,853.5 534.6,853.4 532.1,853.4 529.6,853.3 527.1,853.3 524.6,853.2 522.0,853.2 519.5,853.1 517.0,853.1 514.5,853.0 512.0,853.0 509.5,852.9 507.0,852.8 504.4,852.8 501.9,852.7 499.4,852.7 496.9,852.6 494.4,852.6 491.9,852.5 489.4,852.5 486.9,852.4 484.4,852.3 481.9,852.3 479.4,852.2 476.9,852.1 474.4,852.1 471.9,852.0 469.4,851.9 466.9,851.9 464.4,851.8 461.9,851.7 459.4,851.7 456.9,851.6 454.4,851.5 451.9,851.4 449.5,851.3 447.0,851.3 444.5,851.2 442.0,851.1 439.6,851.0 437.0,851.0"/>
<path d="M437.0,838.5L439.4,838.1 441.9,838.1 444.4,838.1 446.9,838.1 449.4,838.1 452.0,838.1 454.5,838.1 457.0,838.1 459.5,838.1 462.0,838.1 464.5,838.1 467.1,838.1 469.6,838.1 472.1,838.1 474.6,838.1 477.1,838.0 479.6,838.0 482.1,838.0 484.7,838.0 487.2,838.0 489.7,838.0 492.2,838.0 494.7,838.0 497.2,838.0 499.7,837.9 502.2,837.9 504.8,837.9 507.3,837.9 509.8,837.9 512.3,837.9 514.8,837.8 517.3,837.8 519.8,837.8 522.3,837.8 524.8,837.8 527.4,837.7 529.9,837.7 532.4,837.7 534.9,837.7 537.4,837.6 539.9,837.6 542.4,837.6 544.9,837.6 547.4,837.5 549.9,837.5 552.4,837.5 554.9,837.5 557.4,837.4 559.9,837.4 562.5,837.4 565.0,837.3 567.5,837.3 570.0,837.3 572.5,837.2 575.0,837.2 577.5,837.2 580.0,837.1 582.5,837.1 585.0,837.1 587.5,837.0 590.0,837.0 592.5,837.0 595.0,836.9 597.5,836.9 600.0,836.8 602.5,836.8 605.0,836.8 607.5,836.7 610.0,836.7 612.5,836.6 615.0,836.6 617.5,836.6 620.0,836.5 622.5,836.5 625.0,836.4 627.5,836.4 630.0,836.4 632.5,836.3 635.1,836.3 637.6,836.2 640.1,836.2 642.6,836.1 645.1,836.1 647.6,836.0 650.1,836.0 652.6,835.9 655.1,835.9 657.6,835.8 660.1,835.8 662.6,835.8 665.1,835.7 667.6,835.7 670.1,835.6 672.6,835.6 675.1,835.5 677.6,835.5 680.1,835.4 682.6,835.4 685.1,835.3 687.5,835.3 690.0,835.2 692.5,835.1 695.0,835.1 697.5,835.0 700.0,835.0 702.5,834.9 705.0,834.9 707.5,834.8 710.0,834.8 712.5,834.7 715.0,834.7 717.5,834.6 720.0,834.6 722.5,834.5 725.0,834.5 727.5,834.4 730.0,834.3 732.5,834.3 735.0,834.2 737.5,834.2 740.0,834.1 742.5,834.1 745.0,834.0 747.5,834.0 750.0,833.9 752.5,833.8 755.0,833.8 757.5,833.7 760.0,833.7 762.5,833.6 765.0,833.6 767.5,833.5 770.0,833.4 772.5,833.4 775.0,833.3 777.5,833.3 780.0,833.2 782.5,833.2 785.0,833.1 787.5,833.0 790.0,833.0 792.5,832.9 795.0,832.9 797.5,832.8 800.0,832.8 802.5,832.7 805.0,832.6 807.5,832.6 810.0,832.5 812.5,832.5 815.0,832.4 817.5,832.4 820.0,832.3 822.5,832.2 825.0,832.2 827.5,832.1 829.9,832.1 832.4,832.0 834.9,832.0 837.4,831.9 839.9,831.9 842.4,831.8 844.9,831.7 847.4,831.7 849.9,831.6 852.4,831.6 854.9,831.5 857.4,831.5 859.9,831.4 862.4,831.3 864.9,831.3 867.4,831.2 869.9,831.2 872.4,831.1 874.9,831.1 877.4,831.0 879.9,831.0 882.4,830.9 884.9,830.9 887.4,830.8 889.9,830.8 892.4,830.7 894.9,830.6 897.4,830.6 900.0,830.5 902.5,830.5 905.0,830.4 907.5,830.4 910.0,830.3 912.5,830.3 915.0,830.2 917.5,830.2 920.0,830.1 922.5,830.1 925.0,830.0 927.5,830.0 930.0,829.9 932.5,829.9 935.0,829.8 937.5,829.8 940.0,829.7 942.5,829.7 945.0,829.6 947.5,829.6 950.0,829.5 952.5,829.5 955.0,829.5 957.5,829.4 960.0,829.4 962.5,829.3 965.0,829.3 967.6,829.2 970.1,829.2 972.6,829.1 975.1,829.1 977.6,829.1 980.1,829.0 982.6,829.0 985.1,828.9 987.6,828.9 990.1,828.9 992.6,828.8 995.1,828.8 997.6,828.7 1000.2,828.7 1002.7,828.7 1005.2,828.6 1007.7,828.6 1010.2,828.5 1012.7,828.5 1015.2,828.5 1017.7,828.4 1020.2,828.4 1022.7,828.4 1025.3,828.3 1027.8,828.3 1030.3,828.3 1032.8,828.2 1035.3,828.2 1037.8,828.2 1040.3,828.2 1042.8,828.1 1045.4,828.1 1047.9,828.1 1050.4,828.0 1052.9,828.0 1055.4,828.0 1057.9,828.0 1060.4,827.9 1063.0,827.9 1065.5,827.9 1068.0,827.9 1070.5,827.8 1073.0,827.8 1075.5,827.8 1078.1,827.8 1080.6,827.8 1083.1,827.7 1085.6,827.7 1088.1,827.7 1090.7,827.7 1093.2,827.7 1095.7,827.6 1098.2,827.6 1100.7,827.6 1103.3,827.6 1105.8,827.6 1108.3,827.6 1110.8,827.6 1113.3,827.5 1115.9,827.5 1118.4,827.5 1120.9,827.5 1123.4,827.5 1125.9,827.4 1128.5,827.4 1131.0,827.4 1133.5,827.4 1136.0,827.3 1138.5,827.3 1141.1,827.3 1143.6,827.2 1146.1,827.2 1148.6,827.1 1151.1,827.0 1153.6,827.0 1156.2,826.9 1158.7,826.8 1161.2,826.7 1163.7,826.6 1166.2,826.5 1168.7,826.4 1171.2,826.3 1173.7,826.2 1176.2,826.1 1178.7,825.9 1181.2,825.8 1183.7,825.6 1186.2,825.5 1188.7,825.3 1191.2,825.1 1193.7,824.9 1196.2,824.7 1198.7,824.5 1201.1,824.2 1203.6,824.0 1206.1,823.7 1208.6,823.5 1211.1,823.2 1213.5,822.9 1216.0,822.6 1218.5,822.3 1220.9,821.9 1223.4,821.6 1225.8,821.2 1228.3,820.8 1230.7,820.4 1233.2,820.0 1235.6,819.6 1238.0,819.1 1240.5,818.6 1242.9,818.1 1245.3,817.5 1247.6,816.9 1250.0,816.3 1252.4,815.6 1254.7,814.9 1257.0,814.1 1259.3,813.4 1261.6,812.5 1263.9,811.7 1266.1,810.7 1268.3,809.8 1270.5,808.8 1272.7,807.8 1274.9,806.7 1277.1,805.6 1279.3,804.5 1281.4,803.4 1283.6,802.2 1285.7,801.0 1287.8,799.7 1289.9,798.5 1292.0,797.2 1294.1,795.9 1296.2,794.6 1298.3,793.2 1300.4,791.9 1302.5,790.5 1304.6,789.1 1306.7,787.7 1308.7,786.3 1310.8,784.9 1312.9,783.5 1315.0,782.1 1317.0,780.6 1319.1,779.2 1321.2,777.7 1323.3,776.3 1325.4,774.9 1327.5,773.4 1329.6,772.0 1331.7,770.6 1333.9,769.2 1336.0,767.8 1338.2,766.4 1340.3,765.0 1342.5,763.6 1344.7,762.3 1346.8,760.9 1349.0,759.6 1351.3,758.4 1353.5,757.1 1355.7,755.9 1357.9,754.7 1360.2,753.5 1362.5,752.3 1364.7,751.2 1367.0,750.2 1369.3,749.1 1371.6,748.1 1374.0,747.2 1376.3,746.3 1378.6,745.4 1381.0,744.6 1383.4,743.9 1385.8,743.2 1388.1,742.5 1390.5,741.9 1392.9,741.3 1395.3,740.8 1397.8,740.4 1400.2,739.9 1402.6,739.6 1405.0,739.3 1407.4,739.0 1409.8,738.8 1412.2,738.6 1414.6,738.4 1417.0,738.3 1419.5,738.3 1421.9,738.3 1424.3,738.3 1426.7,738.4 1429.1,738.5 1431.5,738.6 1433.9,738.8 1436.4,739.0 1438.8,739.3 1441.2,739.6 1443.6,739.9 1446.0,740.2 1448.4,740.6 1450.9,741.0 1453.3,741.4 1455.7,741.9 1458.1,742.3 1460.5,742.8 1463.0,743.4 1465.4,743.9 1467.8,744.5 1470.2,745.1 1472.6,745.7 1475.1,746.3 1477.5,746.9 1479.9,747.6 1482.3,748.3 1484.8,748.9 1487.2,749.6 1489.6,750.3 1492.1,751.1 1494.5,751.8 1496.9,752.5 1499.3,753.3 1501.8,754.0 1504.2,754.8 1506.6,755.5 1509.1,756.3 1511.5,757.1 1514.0,757.8 1516.4,758.6 1518.8,759.4 1521.3,760.1 1523.7,760.9 1526.2,761.6 1528.6,762.4 1531.0,763.1 1533.5,763.9 1535.9,764.6 1538.4,765.3 1540.8,766.0 1543.3,766.7 1545.7,767.4 1548.2,768.1 1550.6,768.7 1553.1,769.4 1555.5,770.0 1558.0,770.6 1560.4,771.2 1562.9,771.8 1565.3,772.3 1567.8,772.9 1570.3,773.4 1572.7,773.9 1575.2,774.4 1577.7,774.9 1580.1,775.4 1582.6,775.9 1585.0,776.3 1587.5,776.7 1590.0,777.2 1592.4,777.6 1594.9,778.0 1597.4,778.3 1599.9,778.7 1602.3,779.0 1604.8,779.4 1607.3,779.7 1609.7,780.0 1612.2,780.3 1614.7,780.6 1617.2,780.9 1619.6,781.1 1622.1,781.4 1624.6,781.6 1627.1,781.8 1629.6,782.0 1632.0,782.2 1634.5,782.4 1637.0,782.6 1639.5,782.8 1642.0,782.9 1644.5,783.1 1646.9,783.2 1649.4,783.3 1651.9,783.4 1654.4,783.5 1656.9,783.6 1659.4,783.7 1661.9,783.7 1664.3,783.8 1666.8,783.8 1669.3,783.9 1671.8,783.9 1674.3,783.9 1676.8,783.9 1679.3,783.9 1681.8,783.9 1684.3,783.9 1686.8,783.9 1689.2,783.8 1691.7,783.8 1694.2,783.7 1696.7,783.6 1699.2,783.6 1701.7,783.5 1704.2,783.4 1706.7,783.3 1709.2,783.2 1711.7,783.1 1714.2,783.0 1716.7,782.8 1719.2,782.7 1721.7,782.5 1724.2,782.4 1726.7,782.2 1729.2,782.1 1731.7,781.9 1734.2,781.7 1736.7,781.5 1739.2,781.3 1741.6,781.1 1744.1,780.9 1746.6,780.7 1749.1,780.5 1751.6,780.3 1754.1,780.0 1756.6,779.8 1759.1,779.6 1761.6,779.3 1764.1,779.1 1766.6,778.8 1769.1,778.5 1771.6,778.3 1774.1,778.0 1776.6,777.7 1779.1,777.5 1781.6,777.2 1784.1,776.9 1786.6,776.6 1789.1,776.3 1791.6,776.0 1794.1,775.7 1796.6,775.4 1799.1,775.1 1801.6,774.7 1804.1,774.4 1806.6,774.1 1809.1,773.8 1811.6,773.5 1814.1,773.1 1816.6,772.8 1819.0,772.5 1821.5,772.1 1824.0,771.8 1826.5,771.4 1829.0,771.1 1831.5,770.7 1834.0,770.4 1836.5,770.1 1839.0,769.7 1841.5,769.3 1844.0,769.0 1846.5,768.6 1848.9,768.3 1851.4,767.9 1853.9,767.6 1856.4,767.2 1858.9,766.9 1861.4,766.5 1863.9,766.1 1866.4,765.8 1868.8,765.4 1871.0,764.0 L1871.0,764.0L1869.3,765.8 1867.1,767.1 1864.9,768.4 1862.7,769.6 1860.5,770.8 1858.4,772.1 1856.1,773.3 1853.9,774.5 1851.7,775.6 1849.5,776.8 1847.2,777.9 1845.0,779.0 1842.8,780.1 1840.5,781.2 1838.2,782.3 1836.0,783.3 1833.7,784.3 1831.4,785.4 1829.1,786.4 1826.8,787.3 1824.5,788.3 1822.2,789.3 1819.9,790.2 1817.6,791.1 1815.3,792.0 1812.9,792.9 1810.6,793.8 1808.3,794.7 1805.9,795.5 1803.6,796.4 1801.2,797.2 1798.9,798.0 1796.5,798.8 1794.1,799.6 1791.7,800.4 1789.4,801.1 1787.0,801.9 1784.6,802.6 1782.2,803.3 1779.8,804.0 1777.4,804.7 1775.0,805.4 1772.6,806.0 1770.2,806.7 1767.8,807.3 1765.3,808.0 1762.9,808.6 1760.5,809.2 1758.0,809.8 1755.6,810.4 1753.2,810.9 1750.7,811.5 1748.3,812.0 1745.8,812.6 1743.4,813.1 1740.9,813.6 1738.5,814.1 1736.0,814.6 1733.6,815.1 1731.1,815.6 1728.7,816.1 1726.2,816.5 1723.7,817.0 1721.3,817.4 1718.8,817.9 1716.3,818.3 1713.8,818.7 1711.4,819.1 1708.9,819.5 1706.4,819.9 1703.9,820.3 1701.4,820.6 1699.0,821.0 1696.5,821.4 1694.0,821.7 1691.5,822.0 1689.0,822.4 1686.5,822.7 1684.1,823.0 1681.6,823.3 1679.1,823.6 1676.6,823.9 1674.1,824.2 1671.6,824.5 1669.1,824.8 1666.6,825.1 1664.1,825.4 1661.6,825.6 1659.1,825.9 1656.7,826.1 1654.2,826.4 1651.7,826.6 1649.2,826.9 1646.7,827.1 1644.2,827.4 1641.7,827.6 1639.2,827.8 1636.7,828.0 1634.2,828.3 1631.7,828.5 1629.2,828.7 1626.7,828.9 1624.2,829.1 1621.7,829.3 1619.2,829.5 1616.7,829.7 1614.2,829.9 1611.7,830.1 1609.2,830.3 1606.7,830.5 1604.2,830.7 1601.7,830.9 1599.2,831.1 1596.7,831.3 1594.2,831.5 1591.7,831.7 1589.2,831.9 1586.7,832.1 1584.2,832.3 1581.7,832.4 1579.2,832.6 1576.7,832.8 1574.2,833.0 1571.7,833.2 1569.2,833.4 1566.7,833.6 1564.2,833.8 1561.7,834.0 1559.2,834.2 1556.7,834.5 1554.2,834.7 1551.7,834.9 1549.2,835.1 1546.7,835.3 1544.2,835.5 1541.7,835.8 1539.2,836.0 1536.7,836.2 1534.3,836.5 1531.8,836.7 1529.3,836.9 1526.8,837.2 1524.3,837.4 1521.8,837.7 1519.3,837.9 1516.8,838.2 1514.3,838.4 1511.8,838.7 1509.3,838.9 1506.8,839.2 1504.4,839.4 1501.9,839.7 1499.4,839.9 1496.9,840.2 1494.4,840.5 1491.9,840.7 1489.4,841.0 1486.9,841.3 1484.4,841.5 1481.9,841.8 1479.5,842.1 1477.0,842.4 1474.5,842.6 1472.0,842.9 1469.5,843.2 1467.0,843.4 1464.5,843.7 1462.0,844.0 1459.5,844.3 1457.0,844.5 1454.6,844.8 1452.1,845.1 1449.6,845.4 1447.1,845.6 1444.6,845.9 1442.1,846.2 1439.6,846.5 1437.1,846.7 1434.6,847.0 1432.1,847.3 1429.6,847.6 1427.1,847.8 1424.6,848.1 1422.1,848.4 1419.6,848.6 1417.1,848.9 1414.6,849.2 1412.1,849.5 1409.6,849.7 1407.1,850.0 1404.6,850.3 1402.1,850.5 1399.6,850.8 1397.1,851.1 1394.6,851.3 1392.1,851.6 1389.6,851.9 1387.1,852.1 1384.7,852.4 1382.2,852.7 1379.7,853.0 1377.2,853.2 1374.7,853.5 1372.2,853.8 1369.7,854.1 1367.2,854.4 1364.7,854.7 1362.2,855.0 1359.7,855.3 1357.2,855.6 1354.7,855.9 1352.2,856.2 1349.7,856.6 1347.3,856.9 1344.8,857.2 1342.3,857.6 1339.8,857.9 1337.3,858.3 1334.9,858.6 1332.4,859.0 1329.9,859.4 1327.4,859.7 1325.0,860.1 1322.5,860.5 1320.0,860.9 1317.6,861.3 1315.1,861.7 1312.6,862.2 1310.2,862.6 1307.7,863.0 1305.3,863.5 1302.8,864.0 1300.4,864.4 1297.9,864.9 1295.5,865.4 1293.1,865.9 1290.6,866.4 1288.2,866.9 1285.8,867.5 1283.3,868.0 1280.9,868.6 1278.5,869.1 1276.1,869.7 1273.7,870.3 1271.3,870.9 1268.9,871.5 1266.4,872.1 1264.1,872.8 1261.7,873.4 1259.3,874.1 1256.9,874.8 1254.5,875.5 1252.1,876.2 1249.7,876.9 1247.4,877.6 1245.0,878.3 1242.6,879.0 1240.2,879.7 1237.9,880.4 1235.5,881.1 1233.1,881.8 1230.7,882.4 1228.3,883.1 1225.9,883.7 1223.5,884.2 1221.1,884.8 1218.7,885.3 1216.3,885.8 1213.9,886.2 1211.4,886.6 1209.0,887.0 1206.5,887.3 1204.0,887.7 1201.6,888.0 1199.1,888.3 1196.6,888.6 1194.1,888.9 1191.7,889.3 1189.2,889.6 1186.7,889.9 1184.2,890.3 1181.6,890.6 1179.1,891.0 1176.6,891.4 1174.1,891.8 1171.6,892.1 1169.1,892.5 1166.5,892.9 1164.0,893.3 1161.5,893.7 1159.0,894.1 1156.5,894.4 1153.9,894.8 1151.4,895.2 1148.9,895.5 1146.4,895.9 1143.9,896.2 1141.3,896.5 1138.8,896.8 1136.3,897.1 1133.8,897.3 1131.3,897.5 1128.8,897.8 1126.4,897.9 1123.9,898.1 1121.4,898.2 1118.9,898.3 1116.5,898.4 1114.0,898.4 1111.6,898.3 1109.1,898.2 1106.7,898.1 1104.3,897.9 1101.9,897.6 1099.5,897.3 1097.2,896.9 1094.8,896.5 1092.5,896.0 1090.1,895.3 1087.8,894.7 1085.6,893.9 1083.3,893.0 1081.0,892.1 1078.8,891.1 1076.6,890.1 1074.3,888.9 1072.1,887.8 1069.9,886.6 1067.7,885.3 1065.6,884.0 1063.4,882.7 1061.2,881.4 1059.0,880.1 1056.9,878.7 1054.7,877.3 1052.5,876.0 1050.3,874.6 1048.1,873.3 1045.9,872.0 1043.7,870.7 1041.5,869.5 1039.3,868.3 1037.1,867.1 1034.8,865.9 1032.6,864.8 1030.3,863.8 1028.1,862.7 1025.8,861.7 1023.5,860.8 1021.2,859.8 1018.9,858.9 1016.6,858.1 1014.3,857.2 1011.9,856.4 1009.6,855.7 1007.2,854.9 1004.9,854.2 1002.5,853.5 1000.1,852.8 997.8,852.2 995.4,851.6 993.0,851.0 990.6,850.5 988.2,849.9 985.8,849.4 983.3,849.0 980.9,848.5 978.5,848.1 976.0,847.6 973.6,847.2 971.2,846.9 968.7,846.5 966.2,846.2 963.8,845.9 961.3,845.6 958.8,845.3 956.4,845.0 953.9,844.8 951.4,844.6 948.9,844.3 946.4,844.2 943.9,844.0 941.4,843.8 938.9,843.6 936.4,843.5 933.9,843.4 931.4,843.2 928.8,843.1 926.3,843.0 923.8,842.9 921.3,842.8 918.8,842.8 916.2,842.7 913.7,842.6 911.2,842.6 908.6,842.5 906.1,842.5 903.6,842.5 901.0,842.4 898.5,842.4 896.0,842.4 893.4,842.3 890.9,842.3 888.4,842.3 885.8,842.3 883.3,842.2 880.8,842.2 878.2,842.2 875.7,842.2 873.2,842.1 870.6,842.1 868.1,842.1 865.6,842.1 863.0,842.0 860.5,842.0 858.0,842.0 855.5,841.9 852.9,841.9 850.4,841.9 847.9,841.8 845.4,841.8 842.8,841.7 840.3,841.7 837.8,841.7 835.3,841.6 832.8,841.6 830.2,841.5 827.7,841.5 825.2,841.4 822.7,841.4 820.2,841.3 817.7,841.3 815.1,841.2 812.6,841.2 810.1,841.1 807.6,841.1 805.1,841.0 802.6,841.0 800.1,840.9 797.6,840.9 795.0,840.8 792.5,840.7 790.0,840.7 787.5,840.6 785.0,840.6 782.5,840.5 780.0,840.5 777.5,840.4 775.0,840.3 772.5,840.3 770.0,840.2 767.5,840.2 765.0,840.1 762.5,840.0 760.0,840.0 757.4,839.9 754.9,839.9 752.4,839.8 749.9,839.7 747.4,839.7 744.9,839.6 742.4,839.5 739.9,839.5 737.4,839.4 734.9,839.4 732.4,839.3 729.9,839.2 727.4,839.2 724.9,839.1 722.4,839.0 719.9,839.0 717.4,838.9 714.9,838.9 712.4,838.8 709.9,838.7 707.4,838.7 705.0,838.6 702.5,838.6 700.0,838.5 697.5,838.4 695.0,838.4 692.5,838.3 690.0,838.3 687.5,838.2 685.0,838.1 682.5,838.1 680.0,838.0 677.5,838.0 675.0,837.9 672.5,837.9 670.0,837.8 667.5,837.7 665.0,837.7 662.5,837.6 660.0,837.6 657.5,837.5 655.0,837.5 652.5,837.4 650.0,837.4 647.5,837.3 645.1,837.3 642.6,837.2 640.1,837.2 637.6,837.2 635.1,837.1 632.6,837.1 630.1,837.0 627.6,837.0 625.1,836.9 622.6,836.9 620.1,836.9 617.6,836.8 615.1,836.8 612.6,836.8 610.1,836.7 607.6,836.7 605.1,836.7 602.6,836.6 600.1,836.6 597.6,836.6 595.1,836.6 592.6,836.5 590.1,836.5 587.6,836.5 585.1,836.5 582.6,836.4 580.1,836.4 577.6,836.4 575.1,836.4 572.6,836.4 570.1,836.4 567.6,836.4 565.1,836.4 562.6,836.3 560.1,836.3 557.6,836.3 555.1,836.3 552.6,836.3 550.1,836.3 547.6,836.3 545.1,836.3 542.6,836.4 540.1,836.4 537.6,836.4 535.1,836.4 532.6,836.4 530.1,836.4 527.6,836.4 525.1,836.5 522.5,836.5 520.0,836.5 517.5,836.5 515.0,836.6 512.5,836.6 510.0,836.6 507.5,836.7 505.0,836.7 502.5,836.7 499.9,836.8 497.4,836.8 494.9,836.9 492.4,836.9 489.9,837.0 487.4,837.0 484.9,837.1 482.3,837.1 479.8,837.2 477.3,837.2 474.8,837.3 472.3,837.4 469.7,837.4 467.2,837.5 464.7,837.6 462.2,837.7 459.7,837.7 457.1,837.8 454.6,837.9 452.1,838.0 449.5,838.1 447.0,838.2 444.5,838.3 442.0,838.4 439.4,838.5 437.0,838.5"/>
<path d="M439,880 L456,858 L448,843"/>
</g>
<g fill="#000"><rect x="1863" y="534" width="16" height="19"/><rect x="1863" y="682" width="16" height="13"/><rect x="1863" y="759" width="16" height="10"/></g>
<rect x="298" y="28" width="1714" height="1378" fill="none" stroke="#000" stroke-width="16"/>
<g stroke="#000" stroke-width="16">
<line x1="306" y1="1293.0" x2="338.0" y2="1293.0"/>
<line x1="306" y1="1177.8" x2="322.0" y2="1177.8"/>
<line x1="306" y1="1062.5" x2="338.0" y2="1062.5"/>
<line x1="306" y1="947.2" x2="322.0" y2="947.2"/>
<line x1="306" y1="832.0" x2="338.0" y2="832.0"/>
<line x1="306" y1="716.8" x2="322.0" y2="716.8"/>
<line x1="306" y1="601.5" x2="338.0" y2="601.5"/>
<line x1="306" y1="486.2" x2="322.0" y2="486.2"/>
<line x1="306" y1="371.0" x2="338.0" y2="371.0"/>
<line x1="306" y1="255.8" x2="322.0" y2="255.8"/>
<line x1="306" y1="140.5" x2="338.0" y2="140.5"/>
<line x1="298.2" y1="1414" x2="298.2" y2="1430.0"/>
<line x1="441.1" y1="1414" x2="441.1" y2="1446.0"/>
<line x1="584.0" y1="1414" x2="584.0" y2="1430.0"/>
<line x1="726.9" y1="1414" x2="726.9" y2="1446.0"/>
<line x1="869.8" y1="1414" x2="869.8" y2="1430.0"/>
<line x1="1012.7" y1="1414" x2="1012.7" y2="1446.0"/>
<line x1="1155.6" y1="1414" x2="1155.6" y2="1430.0"/>
<line x1="1298.4" y1="1414" x2="1298.4" y2="1446.0"/>
<line x1="1441.3" y1="1414" x2="1441.3" y2="1430.0"/>
<line x1="1584.2" y1="1414" x2="1584.2" y2="1446.0"/>
<line x1="1727.1" y1="1414" x2="1727.1" y2="1430.0"/>
<line x1="1870.0" y1="1414" x2="1870.0" y2="1446.0"/>
<line x1="2012.9" y1="1414" x2="2012.9" y2="1430.0"/>
</g>
<g font-size="101" fill="#000">
<text x="259.5" y="167.0" text-anchor="end">6</text>
<text x="259.5" y="397.5" text-anchor="end">4</text>
<text x="259.5" y="628.0" text-anchor="end">2</text>
<text x="259.5" y="858.5" text-anchor="end">0</text>
<text x="259.5" y="1089.0" text-anchor="end">-2</text>
<text x="259.5" y="1319.5" text-anchor="end">-4</text>
<text x="441.1" y="1541" text-anchor="middle">0.0</text>
<text x="726.9" y="1541" text-anchor="middle">0.1</text>
<text x="1012.7" y="1541" text-anchor="middle">0.2</text>
<text x="1298.4" y="1541" text-anchor="middle">0.3</text>
<text x="1584.2" y="1541" text-anchor="middle">0.4</text>
<text x="1870.0" y="1541" text-anchor="middle">0.5</text>
</g>
<text x="666" y="1639" font-size="106" fill="#000">Potential <tspan font-size="80">(V </tspan><tspan font-size="72" dx="5">vs</tspan><tspan font-size="80"> <tspan dx="-1">S</tspan>C<tspan dx="5">E</tspan><tspan dx="-2">)</tspan></tspan></text>
<text transform="translate(152,1353) rotate(-90)" font-size="109.2" fill="#000">Current density (mA/cm<tspan dy="-58" dx="-5">2</tspan><tspan dy="58" dx="5">)</tspan></text>
<g font-size="62" fill="#d7101e">
<text x="1487" y="115.6" textLength="222" lengthAdjust="spacing">50 mV/s</text>
<text x="1415" y="462.7" textLength="222" lengthAdjust="spacing">15 mV/s</text>
<text x="1374" y="710" textLength="190" lengthAdjust="spacing">5 mV/s</text>
</g>
</svg>
</body></html>
